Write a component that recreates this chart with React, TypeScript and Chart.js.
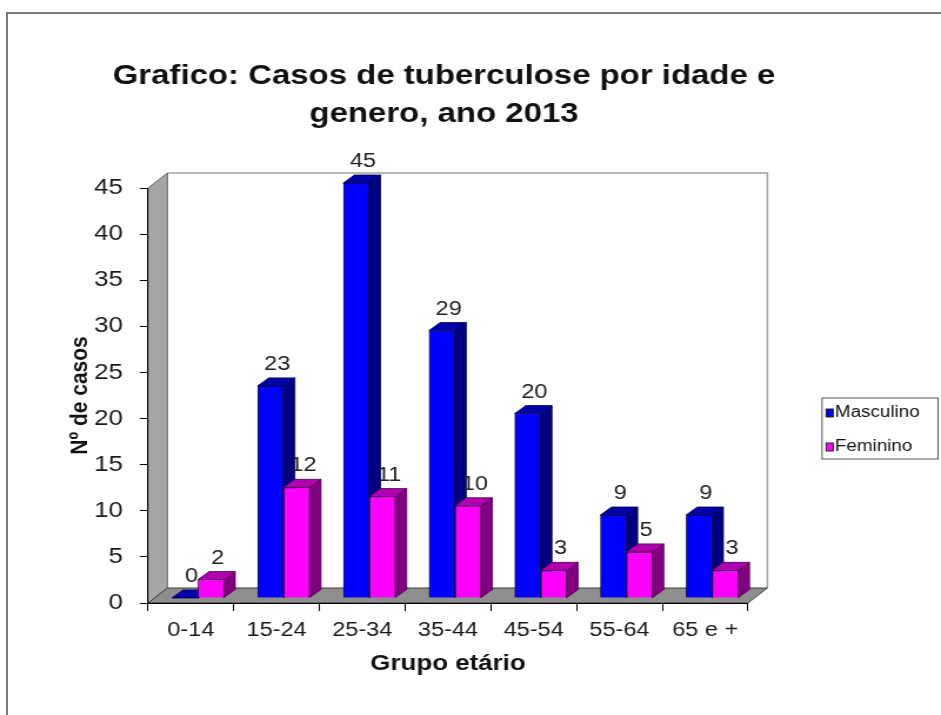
import React, { useEffect, useRef } from 'react';
import { Chart, registerables } from 'chart.js';

Chart.register(...registerables);

// ---------- data ----------
const categories = ['0-14', '15-24', '25-34', '35-44', '45-54', '55-64', '65 e +'];
const masculino = [0, 23, 45, 29, 20, 9, 9];
const feminino = [2, 12, 11, 10, 3, 5, 3];
const seriesNames = ['Masculino', 'Feminino'];
const yMin = 0;
const yMax = 45;
const yStep = 5;
const titleLines = ['Grafico: Casos de tuberculose por idade e', 'genero, ano 2013'];
const xTitle = 'Grupo etário';
const yTitle = 'Nº de casos';

// ---------- layout / style ----------
const W = 941;
const H = 715;
const CW = 800; // drawing width (image is horizontally stretched)
const SX = W / CW;
const FONT = 'Arial, "Liberation Sans", Helvetica, sans-serif';

const WALL_DX = 16.5;
const WALL_DY = -15;
const BAR_SHIFT_X = 6;
const BAR_SHIFT_Y = -5;
const BAR_DX = 9.5;
const BAR_DY = -8;

const fronts = ['#0000FF', '#FF00FF'];
const sides = ['#000080', '#800080'];
const tops = ['#0000A8', '#B000B0'];
const edges = ['#00004a', '#4a004a'];

function poly(ctx: CanvasRenderingContext2D, pts: number[][], fill: string, stroke?: string, lw = 1) {
  ctx.beginPath();
  ctx.moveTo(pts[0][0], pts[0][1]);
  for (let i = 1; i < pts.length; i++) ctx.lineTo(pts[i][0], pts[i][1]);
  ctx.closePath();
  ctx.fillStyle = fill;
  ctx.fill();
  if (stroke) {
    ctx.strokeStyle = stroke;
    ctx.lineWidth = lw;
    ctx.stroke();
  }
}

const threeD = {
  id: 'threeD',
  beforeDraw(chart: any) {
    const { ctx, chartArea } = chart;
    const { left, right, top, bottom } = chartArea;
    ctx.save();
    // back wall
    ctx.fillStyle = '#ffffff';
    ctx.fillRect(left + WALL_DX, top + WALL_DY, right - left, bottom - top);
    ctx.strokeStyle = '#a0a0a0';
    ctx.lineWidth = 1.5;
    ctx.beginPath();
    ctx.moveTo(left + WALL_DX, top + WALL_DY);
    ctx.lineTo(right + WALL_DX, top + WALL_DY);
    ctx.lineTo(right + WALL_DX, bottom + WALL_DY);
    ctx.stroke();
    // side wall
    poly(ctx, [[left, top], [left + WALL_DX, top + WALL_DY], [left + WALL_DX, bottom + WALL_DY], [left, bottom]], '#a6a6a6', '#606060', 1);
    // floor
    poly(ctx, [[left, bottom], [left + WALL_DX, bottom + WALL_DY], [right + WALL_DX, bottom + WALL_DY], [right, bottom]], '#8e8e8e', '#3a3a3a', 1);

    // title
    ctx.fillStyle = '#111';
    ctx.font = `bold 28px ${FONT}`;
    ctx.textAlign = 'center';
    ctx.textBaseline = 'middle';
    ctx.fillText(titleLines[0], 444 / SX, 76);
    ctx.fillText(titleLines[1], 444 / SX, 114);

    // legend
    const lx = 822 / SX, rx = 938 / SX, ty = 398, by = 459;
    ctx.fillStyle = '#fff';
    ctx.fillRect(lx, ty, rx - lx, by - ty);
    ctx.strokeStyle = '#555';
    ctx.lineWidth = 1;
    ctx.strokeRect(lx, ty, rx - lx, by - ty);
    ctx.font = `16px ${FONT}`;
    ctx.textAlign = 'left';
    ctx.textBaseline = 'middle';
    chart.data.datasets.forEach((ds: any, i: number) => {
      const cy = i === 0 ? 413 : 447;
      ctx.fillStyle = fronts[i];
      ctx.fillRect(lx + 3.5, cy - 4, 6, 8);
      ctx.strokeStyle = '#222';
      ctx.strokeRect(lx + 3.5, cy - 4, 6, 8);
      ctx.fillStyle = '#111';
      ctx.fillText(ds.label, lx + 11, cy);
    });
    ctx.restore();
  },
  beforeDatasetsDraw(chart: any) {
    chart.ctx.save();
    chart.ctx.translate(BAR_SHIFT_X, BAR_SHIFT_Y);
  },
  afterDatasetsDraw(chart: any) {
    const ctx = chart.ctx;
    // redraw bars in painter's order: each series front, side and top, left to right
    for (let i = 0; i < chart.data.datasets.length; i++) {
      const meta = chart.getDatasetMeta(i);
      meta.data.forEach((bar: any) => {
        bar.draw(ctx, chart.chartArea);
        const { x, y, base, width } = bar.getProps(['x', 'y', 'base', 'width'], true);
        const l = x - width / 2;
        const r = x + width / 2;
        poly(ctx, [[r, y], [r + BAR_DX, y + BAR_DY], [r + BAR_DX, base + BAR_DY], [r, base]], sides[i], edges[i], 0.8);
        poly(ctx, [[l, y], [l + BAR_DX, y + BAR_DY], [r + BAR_DX, y + BAR_DY], [r, y]], tops[i], edges[i], 0.8);
      });
    }
    // value labels
    ctx.font = `20px ${FONT}`;
    ctx.fillStyle = '#222';
    ctx.textAlign = 'center';
    ctx.textBaseline = 'alphabetic';
    chart.data.datasets.forEach((ds: any, i: number) => {
      const meta = chart.getDatasetMeta(i);
      meta.data.forEach((bar: any, j: number) => {
        const { x, y } = bar.getProps(['x', 'y'], true);
        ctx.fillText(String(ds.data[j]), x + BAR_DX * 0.6, y + BAR_DY - 8);
      });
    });
    ctx.restore();
  },
};

export default function App() {
  const ref = useRef<HTMLCanvasElement>(null);

  useEffect(() => {
    const canvas = ref.current;
    if (!canvas) return;
    const chart = new Chart(canvas, {
      type: 'bar',
      data: {
        labels: categories,
        datasets: [
          { label: seriesNames[0], data: masculino, backgroundColor: fronts[0], borderColor: edges[0], borderWidth: 0.8, clip: false } as any,
          { label: seriesNames[1], data: feminino, backgroundColor: fronts[1], borderColor: edges[1], borderWidth: 0.8, clip: false } as any,
        ],
      },
      options: {
        responsive: false,
        animation: false,
        devicePixelRatio: 1,
        layout: { padding: { top: 188, left: 0, right: CW - 748 / SX, bottom: 0 } },
        datasets: { bar: { categoryPercentage: 0.61, barPercentage: 1 } },
        plugins: {
          legend: { display: false },
          title: { display: false },
          tooltip: { enabled: false },
        },
        scales: {
          x: {
            grid: { offset: true, drawOnChartArea: false, drawTicks: true, tickLength: 8, color: '#000' },
            border: { display: true, color: '#000', width: 1 },
            ticks: { color: '#1a1a1a', font: { family: FONT, size: 20 }, padding: 7, maxRotation: 0 },
            title: { display: true, text: xTitle, color: '#111', font: { family: FONT, size: 22, weight: 'bold' }, padding: { top: 0, bottom: 37.8 } },
            afterFit: (s: any) => { s.height = H - 603; },
          },
          y: {
            min: yMin,
            max: yMax,
            grid: { drawOnChartArea: false, drawTicks: true, tickLength: 7, color: '#000' },
            border: { display: true, color: '#000', width: 1 },
            ticks: { stepSize: yStep, color: '#1a1a1a', font: { family: FONT, size: 22 }, padding: 14.4 },
            title: { display: true, text: yTitle, color: '#111', font: { family: FONT, size: 21, weight: 'bold' }, padding: { top: 55.4, bottom: 0 } },
            afterFit: (s: any) => { s.width = 148 / SX; },
          },
        },
      },
      plugins: [threeD],
    } as any);
    return () => chart.destroy();
  }, []);

  return (
    <div style={{ position: 'fixed', left: 0, top: 0, width: W, height: H, overflow: 'hidden', background: '#fff' }}>
      <div style={{ position: 'absolute', left: 6, top: 12, width: W + 20, height: H + 20, borderTop: '2px solid #7a7a7a', borderLeft: '2px solid #7a7a7a' }} />
      <canvas ref={ref} width={CW} height={H} style={{ position: 'absolute', left: 0, top: 0, width: W + 'px', height: H + 'px', display: 'block' }} />
    </div>
  );
}
